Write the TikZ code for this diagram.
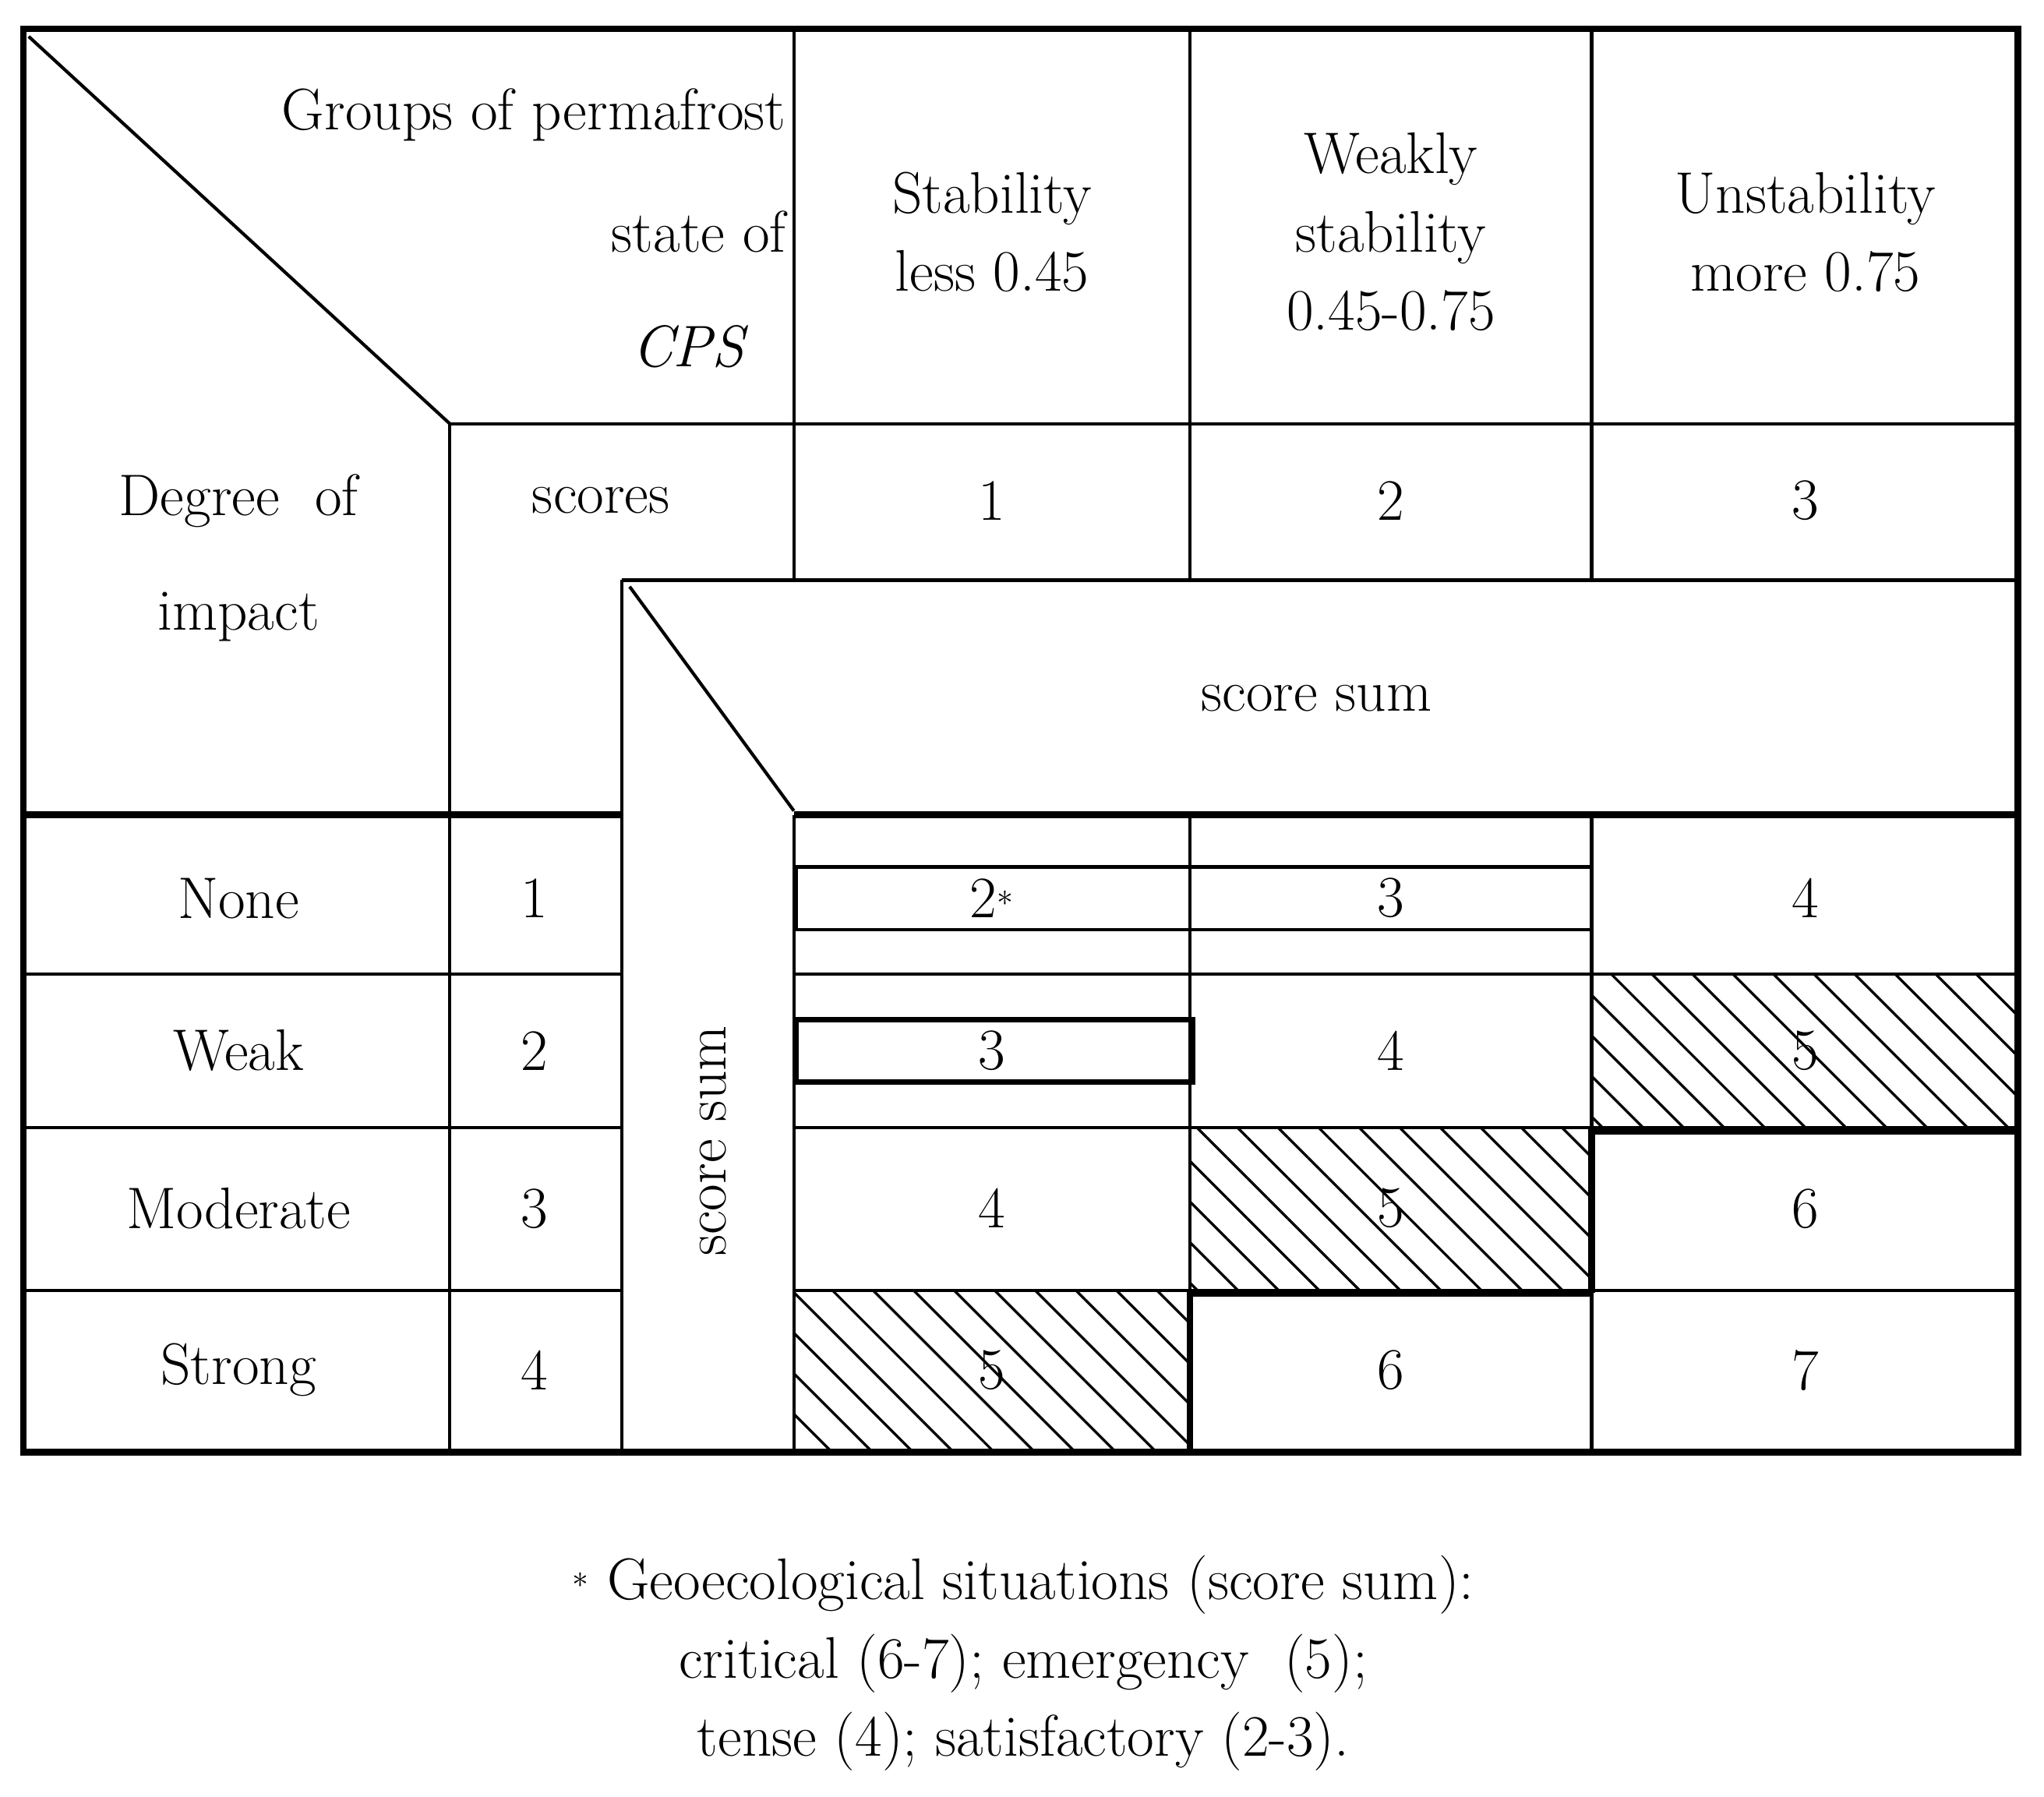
\documentclass[tikz,border=0pt]{standalone}
\usetikzlibrary{patterns.meta}
\begin{document}
\begin{tikzpicture}[x=1pt,y=-1pt,
  thin/.style={line width=2.5pt},
  thick/.style={line width=5pt},
  txt/.style={font=\fontsize{45}{60}\selectfont, inner sep=0pt},
  hatch/.style={pattern={Lines[angle=-45,distance=22pt,line width=2pt]}}]
\useasboundingbox (0,0) rectangle (1568,1378);
% hatched cells
\fill[hatch] (1221,747) rectangle (1548,865);
\fill[hatch] (913,865) rectangle (1221,990);
\fill[hatch] (609,990) rectangle (913,1114);
% grid
\draw[thin] (609,22) -- (609,445);
\draw[thin] (609,625) -- (609,1114);
\draw[thin] (913,22) -- (913,445) (913,625) -- (913,990);
\draw[thin] (1221,22) -- (1221,445) (1221,625) -- (1221,868) (1221,990) -- (1221,1114);
\draw[thin] (345,325) -- (345,1114);
\draw[thin] (477,445) -- (477,1114);
\draw[thin] (345,325) -- (1548,325);
\draw[thin] (477,445) -- (1548,445);
\draw[thick] (18,625) -- (477,625) (609,625) -- (1548,625);
\foreach \y in {747,865,990} \draw[thin] (18,\y) -- (477,\y) (609,\y) -- (1548,\y);
\draw[thin] (22,28) -- (345,325);
\draw[thin] (483,450) -- (609,622);
% small boxes
\draw[thin] (611,665) rectangle (913,713);
\draw[thin] (913,665) -- (1221,665) (913,713) -- (1221,713);
\draw[line width=4pt] (611,782) rectangle (915,830);
% thick borders
\draw[thick] (1221,868) -- (1548,868) (1221,866) -- (1221,992) (913,992) -- (1221,992) (913,990) -- (913,1114);
\draw[thick] (18,22) rectangle (1548,1114);
% texts
\node[txt,anchor=east] (g1) at (603,88) {Groups of permafrost};
\node[txt,anchor=east] (g2) at (603,178) {state of};
\node[txt] (g3) at (528,266) {\itshape CPS};
\node[txt,align=center] (h1) at (761,178) {Stability\\less 0.45};
\node[txt,align=center] (h2) at (1067,178) {Weakly\\stability\\0.45-0.75};
\node[txt,align=center] (h3) at (1385,178) {Unstability\\more 0.75};
\node[txt,align=center] (d) at (183,428) {Degree \ of\\[28pt]impact};
\node[txt] (sc) at (461,384) {scores};
\node[txt] (s1) at (761,384) {1};
\node[txt] (s2) at (1067,384) {2};
\node[txt] (s3) at (1385,384) {3};
\node[txt] (ss) at (1010,536) {score sum};
\node[txt,rotate=90] (ssv) at (547,875) {score sum};
\foreach \n/\y/\s in {None/689/1,Weak/806/2,Moderate/927/3,Strong/1051/4}{
  \node[txt] at (183,\y) {\n};
  \node[txt] at (410,\y) {\s};}
\node[txt] at (761,689) {2$^{*}$};
\node[txt] at (1067,689) {3};
\node[txt] at (1385,689) {4};
\node[txt] at (761,806) {3};
\node[txt] at (1067,806) {4};
\node[txt] at (1385,806) {5};
\node[txt] at (761,927) {4};
\node[txt] at (1067,927) {5};
\node[txt] at (1385,927) {6};
\node[txt] at (761,1051) {5};
\node[txt] at (1067,1051) {6};
\node[txt] at (1385,1051) {7};
\node[txt,align=center] (fn) at (785,1276) {$^{*}$ Geoecological situations (score sum):\\critical (6-7); emergency \ (5);\\tense (4); satisfactory (2-3).};
\end{tikzpicture}
\end{document}
